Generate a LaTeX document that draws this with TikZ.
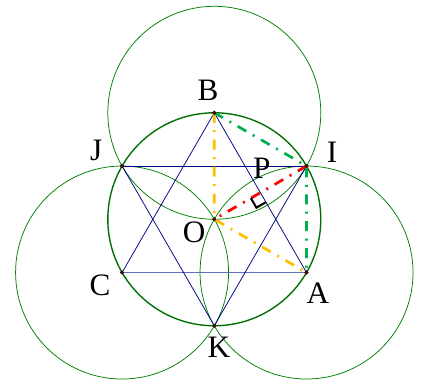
\documentclass[tikz,border=0pt]{standalone}
\usepackage{fontspec}
\setmainfont{Liberation Serif}
\usetikzlibrary{calc}
\definecolor{hxGreen}{RGB}{0,128,0}
\definecolor{hxRing}{RGB}{0,110,0}
\definecolor{hxNavy}{RGB}{0,0,128}
\definecolor{hxSlate}{RGB}{100,110,185}
\definecolor{hxGold}{RGB}{255,192,0}
\definecolor{hxMint}{RGB}{0,176,80}
\definecolor{hxRed}{RGB}{255,0,0}

\begin{document}
\begin{tikzpicture}[
      circ/.style={draw=hxGreen,line width=0.6pt},
      ring/.style={draw=hxRing,line width=1.1pt},
      edge/.style={draw=hxNavy,line width=0.6pt},
      dashdot/.style={line width=2.2pt,dash pattern=on 8pt off 6pt on 1.6pt off 6pt},
      pt/.style={circle,fill=red!50!black,draw=black,line width=0.3pt,inner sep=0pt,minimum size=3pt},
      lbl/.style={font=\fontsize{25}{30}\selectfont,inner sep=0pt}]
    \useasboundingbox (-6.037,-4.668) rectangle (5.851,6.177);
    % points of the hexagon
    \coordinate (O) at (0,0);
    \coordinate (B) at (90:3);
    \coordinate (I) at (30:3);
    \coordinate (J) at (150:3);
    \coordinate (C) at (210:3);
    \coordinate (A) at (330:3);
    \coordinate (K) at (270:3);
    \coordinate (M) at ($(O)!0.5!(I)$);
    % circles
    \draw[circ] (B) circle (3);
    \draw[circ] (C) circle (3);
    \draw[circ] (A) circle (3);
    \draw[ring] (O) circle (3);
    % star
    \draw[edge] (B) -- (A);
    \draw[edge] (B) -- (C);
    \draw[edge,draw=hxSlate,line width=1pt] (C) -- (A);
    \draw[edge] (J) -- (I);
    \draw[edge] (J) -- (K);
    \draw[edge] (I) -- (K);
    % dash-dot lines
    \draw[dashdot,hxGold] (B) -- (O) -- (A);
    \draw[dashdot,hxMint] (B) -- (I) -- (A);
    \draw[dashdot,hxRed] (I) -- (O);
    % right angle at M
    \coordinate (m1) at ($(M)!0.31cm!(O)$);
    \coordinate (m2) at ($(M)!0.31cm!(A)$);
    \draw[line width=1.6pt] (m1) -- ($(m1)+(m2)-(M)$) -- (m2);
    % dots
    \foreach \p in {O,B,I,J,C,A,K}
      \node[pt] (d\p) at (\p) {};
    % labels
    \node[lbl] (lB) at ($(B)+(-0.18,0.64)$) {B};
    \node[lbl] (lJ) at ($(J)+(-0.73,0.45)$) {J};
    \node[lbl] (lI) at ($(I)+(0.72,0.40)$) {I};
    \node[lbl] (lP) at ($(I)+(-1.26,-0.05)$) {P};
    \node[lbl] (lO) at ($(O)+(-0.57,-0.36)$) {O};
    \node[lbl] (lC) at ($(C)+(-0.62,-0.35)$) {C};
    \node[lbl] (lA) at ($(A)+(0.32,-0.58)$) {A};
    \node[lbl] (lK) at ($(K)+(0.13,-0.60)$) {K};
  \end{tikzpicture}
\end{document}
